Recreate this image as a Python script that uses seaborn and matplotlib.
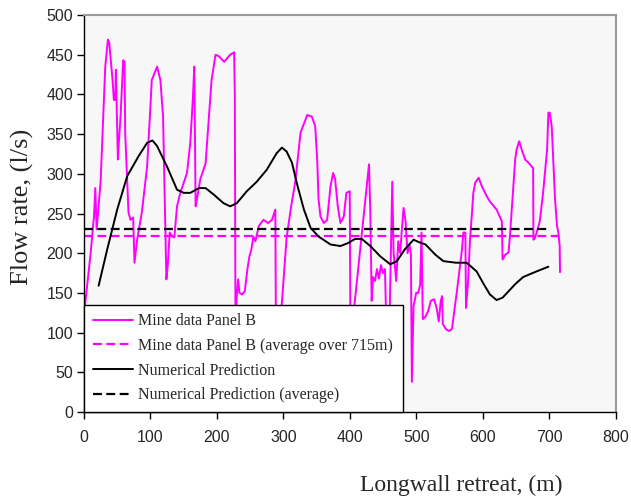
import matplotlib
matplotlib.use("Agg")
import matplotlib.pyplot as plt
import seaborn as sns
import pandas as pd

# Mine data Panel B (measured flow rate, l/s) vs longwall retreat (m)
mine_x = [0, 2, 10, 15, 17, 19, 25, 32, 36, 38, 43, 45, 47, 48, 50, 51, 52, 55, 59, 61,
          62, 67, 70, 74, 76, 80, 87, 95, 100, 102, 110, 115, 119, 124, 126, 129, 133, 136,
          140, 145, 155, 160, 164, 166, 168, 170, 175, 183, 187, 192, 198, 203, 211, 220,
          226, 227, 228, 230, 232, 234, 238, 242, 246, 249, 252, 255, 258, 263, 270, 277,
          283, 288, 289, 292, 305, 312, 318, 326, 336, 343, 348, 351, 353, 356, 361, 366,
          371, 375, 378, 382, 386, 391, 395, 400, 401, 404, 429, 431, 433, 435, 438, 441,
          444, 447, 450, 453, 455, 460, 464, 466, 470, 473, 476, 478, 481, 484, 487, 490,
          492, 493.5, 496, 500, 503, 506, 508, 510, 514, 518, 522, 527, 531, 534, 537, 539,
          540, 545, 550, 554, 557, 561, 566, 569, 571, 574, 575, 578, 581, 584, 586, 589,
          594, 599, 606, 611, 621, 629, 630, 634, 639, 641, 646, 649, 651, 655, 659, 664,
          669, 676, 676.5, 678, 681, 686, 691, 697, 699, 701, 704, 709, 712, 714, 716, 716.5]
mine_y = [120, 138, 200, 246, 282, 230, 290, 435, 469, 465, 418, 393, 393, 431, 352, 318, 334, 372, 443, 441,
          352, 251, 242, 245, 188, 217, 251, 309, 385, 418, 435, 418, 372, 167, 184, 226, 221, 220,
          259, 276, 301, 339, 397, 435, 259, 268, 293, 313, 360, 418, 450, 448, 441, 450,
          453, 400, 110, 146, 167, 150, 148, 152, 180, 196, 205, 221, 215, 234, 242, 238,
          242, 255, 80, 70, 220, 260, 290, 352, 374, 372, 360, 318, 268, 246, 238, 242,
          284, 301, 293, 259, 238, 246, 276, 278, 100, 110, 312, 250, 140, 170, 165, 180,
          168, 185, 175, 180, 110, 120, 290, 200, 165, 215, 200, 225, 257, 240, 200, 210,
          200, 38, 133, 150, 150, 160, 226, 117, 120, 127, 140, 142, 130, 114, 140, 146,
          111, 104, 102, 105, 125, 150, 184, 205, 226, 226, 131, 163, 217, 251, 276, 289,
          295, 284, 272, 265, 255, 240, 192, 198, 201, 220, 280, 318, 330, 341, 330, 318,
          314, 307, 217, 218, 225, 240, 276, 330, 377, 377, 360, 268, 234, 226, 209, 176]

# Numerical prediction
pred_x = [22, 35, 50, 65, 82, 95, 103, 110, 125, 140, 150, 160, 173, 183, 195, 210, 220, 230,
          245, 260, 275, 290, 298, 305, 313, 321, 331, 341, 353, 371, 386, 398, 408, 418,
          431, 446, 461, 471, 483, 496, 504, 514, 529, 541, 560, 576, 591, 601, 611, 621,
          630, 639, 649, 661, 681, 699]
pred_y = [159, 205, 255, 297, 322, 339, 342, 335, 309, 280, 276, 276, 282, 282, 274, 263, 259, 263,
          278, 290, 305, 326, 333, 328, 314, 286, 255, 232, 221, 211, 209, 213, 218, 218,
          209, 196, 186, 190, 205, 217, 214, 211, 198, 190, 188, 188, 177, 162, 148, 141,
          144, 152, 161, 170, 177, 183]

# Averages
mine_avg_x = [0, 716]
mine_avg_y = [222, 222]
pred_avg_x = [0, 700]
pred_avg_y = [231, 231]

labels = ["Mine data Panel B",
          "Mine data Panel B (average over 715m)",
          "Numerical Prediction",
          "Numerical Prediction (average)"]

sns.set_theme(style="white")
plt.rcParams["font.family"] = ["Liberation Sans", "DejaVu Sans"]

fig = plt.figure(figsize=(6.31, 4.99), dpi=100)
ax = fig.add_axes([84 / 631, 1 - 412 / 499, 531.5 / 631, 397 / 499])
ax.set_facecolor("#f7f7f7")

magenta = "#ff00ff"
lw = 1.4

sns.lineplot(data=pd.DataFrame({"x": mine_x, "y": mine_y}), x="x", y="y", ax=ax,
             sort=False, estimator=None, color=magenta, lw=lw, label=labels[0])
sns.lineplot(data=pd.DataFrame({"x": mine_avg_x, "y": mine_avg_y}), x="x", y="y", ax=ax,
             sort=False, estimator=None, color=magenta, lw=1.6, dashes=(4, 2),
             label=labels[1])
sns.lineplot(data=pd.DataFrame({"x": pred_x, "y": pred_y}), x="x", y="y", ax=ax,
             sort=False, estimator=None, color="black", lw=lw, label=labels[2])
sns.lineplot(data=pd.DataFrame({"x": pred_avg_x, "y": pred_avg_y}), x="x", y="y", ax=ax,
             sort=False, estimator=None, color="black", lw=1.6, dashes=(4, 2),
             label=labels[3])

ax.set_xlim(0, 800)
ax.set_ylim(0, 500)
ax.set_xticks(range(0, 801, 100))
ax.set_yticks(range(0, 501, 50))
ax.tick_params(axis="both", direction="out", length=5, width=1, color="black",
               labelsize=11.5, pad=3, bottom=True, left=True)
ax.tick_params(axis="x", pad=8)

for side in ["left", "bottom"]:
    ax.spines[side].set_color("black")
    ax.spines[side].set_linewidth(1)
for side in ["top", "right"]:
    ax.spines[side].set_color("#9a9a9a")
    ax.spines[side].set_linewidth(1.5)

ax.set_xlabel("")
ax.set_ylabel("")
fig.text(461 / 631, 1 - 485 / 499, "Longwall retreat, (m)", ha="center", va="center",
         family=["Liberation Serif"], fontsize=17)
fig.text(22 / 631, 1 - 207 / 499, "Flow rate, (l/s)", ha="center", va="center",
         rotation=90, family=["Liberation Serif"], fontsize=19)

leg = ax.legend(loc="lower left", bbox_to_anchor=(0, 0, 319 / 531.5, 0.27),
                mode="expand", borderaxespad=0,
                fancybox=False, framealpha=1, edgecolor="black",
                prop={"family": "Liberation Serif", "size": 11.5},
                handlelength=2.5, handletextpad=0.3, labelspacing=0.54,
                borderpad=0.55)
leg.get_frame().set_linewidth(1)

fig.savefig("out.png", dpi=100)
